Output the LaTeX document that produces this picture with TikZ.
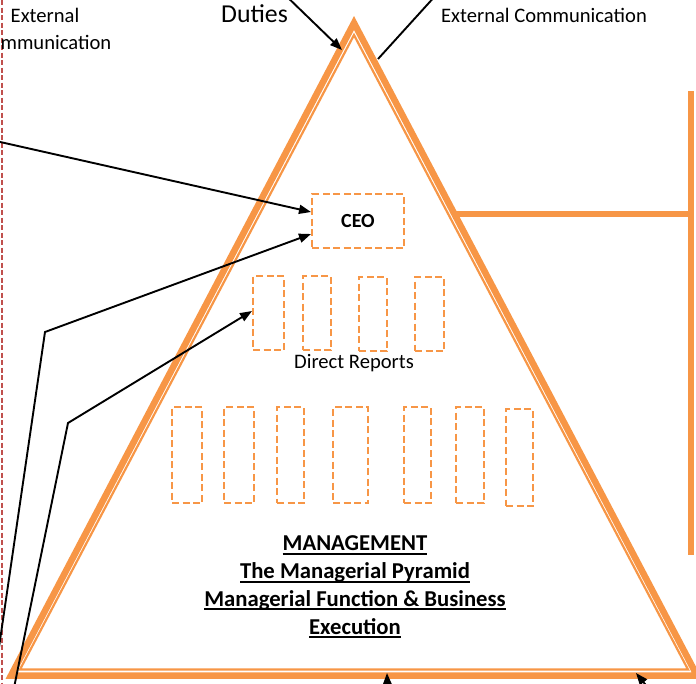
\documentclass[tikz,border=0pt]{standalone}
\usepackage{fontspec}
\setmainfont{Carlito}
\usetikzlibrary{arrows.meta,calc}
\definecolor{org}{HTML}{F79646}
\definecolor{redd}{HTML}{C0504D}
\newcommand\ulx[1]{\setbox0\hbox{#1}\rlap{\rule[-4pt]{\wd0}{2pt}}\box0}
\begin{document}
\begin{tikzpicture}[x=1pt,y=-1pt,
  dbox/.style={draw=org,line width=2pt,dash pattern=on 7pt off 3.5pt,inner sep=0pt},
  conn/.style={line width=1.9pt,black},
  arr/.style={conn,-{Triangle[length=12pt,width=9pt]}},
  lbl/.style={font=\fontsize{20.6}{27}\selectfont,inner sep=0pt,align=center},
  tri/.style={draw=org,line join=miter},
  bar/.style={draw=org,line width=6.5pt}]
\useasboundingbox (0,0) rectangle (696,683);
\clip (0,0) rectangle (696,683);
% pyramid
\draw[tri,line width=6.5pt] (354,23) -- (697,675.5) -- (11,675.5) -- cycle;
\draw[tri,line width=2.2pt] (354,35) -- (688,669.5) -- (20,669.5) -- cycle;
% red dashed line
\draw[redd,line width=2.6pt,dash pattern=on 5pt off 2.5pt] (2,0) -- (2,683);
% bracket on the right
\coordinate (rtri) at (454,214);
\coordinate (rbar) at (691,214);
\coordinate (btop) at (691,91);
\coordinate (bbot) at (691,555);
\draw[bar] (rtri) -- (rbar);
\draw[bar] (btop) -- (bbot);
% boxes
\node[dbox,minimum width=92pt,minimum height=54pt,font=\fontsize{20}{24}\selectfont\bfseries] (ceo) at (358,221) {CEO};
\node[dbox,minimum width=31pt,minimum height=74pt] (dr1) at (268.5,313) {};
\node[dbox,minimum width=28pt,minimum height=74pt] (dr2) at (317,313) {};
\node[dbox,minimum width=28pt,minimum height=74pt] (dr3) at (373,314) {};
\node[dbox,minimum width=29pt,minimum height=74pt] (dr4) at (429.5,314) {};
\node[lbl] (drl) at (354,363) {Direct Reports};
\node[dbox,minimum width=30pt,minimum height=96pt] (r1) at (187,455) {};
\node[dbox,minimum width=30pt,minimum height=96pt] (r2) at (239,455) {};
\node[dbox,minimum width=27pt,minimum height=96pt] (r3) at (290.5,455) {};
\node[dbox,minimum width=35pt,minimum height=96pt] (r4) at (350.5,455) {};
\node[dbox,minimum width=27pt,minimum height=96pt] (r5) at (417.5,455) {};
\node[dbox,minimum width=28pt,minimum height=96pt] (r6) at (470,455) {};
\node[dbox,minimum width=27pt,minimum height=97pt] (r7) at (519.5,457.5) {};
% management text
\node[inner sep=0pt,align=center,font=\fontsize{22.7}{27.7}\selectfont\bfseries] (mgmt) at (355,587)
  {\ulx{MANAGEMENT}\\\ulx{The Managerial Pyramid}\\\ulx{Managerial Function \& Business}\\\ulx{Execution}};
% top labels
\node[lbl,font=\fontsize{25.8}{30}\selectfont] (duties) at (254.5,14) {Duties};
\node[lbl] (extr) at (544,15) {External Communication};
\node[lbl] (extl) at (45,28.5) {External\\Communication};
% connectors
\coordinate (s1) at (280,-10);
\coordinate (t1) at (342,50);
\draw[arr] (s1) -- (t1);
\coordinate (s2) at (378,59);
\coordinate (e2) at (440.6,-10);
\draw[conn] (s2) -- (e2);
\coordinate (s3) at (-10,139.7);
\draw[arr] (s3) -- ([yshift=9pt]ceo.west);
\coordinate (s4) at (-8.7,700);
\coordinate (k4) at (45,332);
\draw[arr] (s4) -- (k4) -- ([yshift=-13pt]ceo.west);
\coordinate (s5) at (11.5,700);
\coordinate (k5) at (68,423);
\draw[arr] (s5) -- (k5) -- ([yshift=2pt]dr1.west);
\coordinate (s6) at (388,705);
\coordinate (t6) at (387,673);
\draw[arr] (s6) -- (t6);
\coordinate (s7) at (662,705);
\coordinate (t7) at (636,673);
\draw[arr] (s7) -- (t7);
\end{tikzpicture}
\end{document}
